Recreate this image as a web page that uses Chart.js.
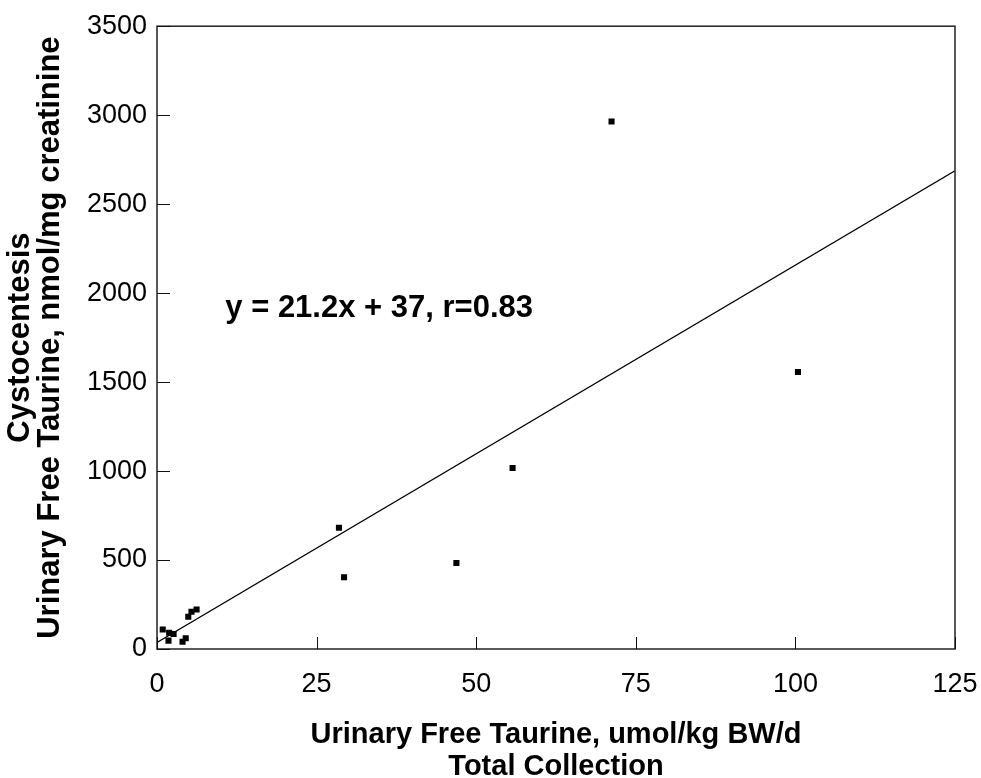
<!DOCTYPE html>
<html>
<head>
<meta charset="utf-8">
<script src="https://cdn.jsdelivr.net/npm/chart.js@4"></script>
<style>
  html, body { margin: 0; padding: 0; background: #fff; }
  #wrap { width: 981px; height: 778px; }
</style>
</head>
<body>
<div id="wrap"><canvas id="c" width="981" height="778"></canvas></div>
<script>
// ---- Data ----
const totalCollection = [0.9, 1.9, 1.8, 2.6, 4.0, 4.5, 4.9, 5.4, 6.2, 28.5, 29.3, 46.9, 55.7, 71.2, 100.4];
const cystocentesis   = [110, 91, 47, 84, 41, 60, 181, 209, 222, 681, 403, 483, 1017, 2964, 1557];
const fitSlope = 21.2;
const fitIntercept = 37;
const fitRange = [0, 125];
const xTicks = [0, 25, 50, 75, 100, 125];
const yTicks = [0, 500, 1000, 1500, 2000, 2500, 3000, 3500];
const equationText = 'y = 21.2x + 37, r=0.83';
const equationPos = { x: 10.7, y: 1915 };

const scatterPoints = totalCollection.map((x, i) => ({ x: x, y: cystocentesis[i] }));
const fitPoints = fitRange.map(x => ({ x: x, y: fitSlope * x + fitIntercept }));

const FONT = "'Liberation Sans', Arial, Helvetica, sans-serif";

const framePlugin = {
  id: 'frame',
  afterDatasetsDraw(chart) {
    const { ctx, chartArea: a, scales } = chart;
    ctx.save();
    ctx.strokeStyle = '#222';
    ctx.lineWidth = 1.5;
    ctx.strokeRect(a.left, a.top, a.right - a.left, a.bottom - a.top);
    ctx.lineWidth = 1;
    ctx.strokeStyle = '#111';
    // inward ticks
    xTicks.forEach(v => {
      const px = Math.round(scales.x.getPixelForValue(v)) + 0.5;
      ctx.beginPath(); ctx.moveTo(px, a.bottom); ctx.lineTo(px, a.bottom - 12); ctx.stroke();
    });
    yTicks.forEach(v => {
      const py = Math.round(scales.y.getPixelForValue(v)) + 0.5;
      ctx.beginPath(); ctx.moveTo(a.left, py); ctx.lineTo(a.left + 13, py); ctx.stroke();
    });
    // equation annotation
    ctx.fillStyle = '#000';
    ctx.font = 'bold 31px ' + FONT;
    ctx.textAlign = 'left';
    ctx.textBaseline = 'middle';
    ctx.fillText(equationText, scales.x.getPixelForValue(equationPos.x), scales.y.getPixelForValue(equationPos.y));
    ctx.restore();
  }
};

new Chart(document.getElementById('c'), {
  type: 'scatter',
  data: {
    datasets: [
      {
        label: 'Data',
        data: scatterPoints,
        pointStyle: 'rect',
        pointRadius: 4.3,
        pointHoverRadius: 4.3,
        backgroundColor: '#000',
        borderColor: '#000',
        borderWidth: 0
      },
      {
        label: 'Fit',
        type: 'line',
        data: fitPoints,
        borderColor: '#000',
        borderWidth: 1.3,
        pointRadius: 0,
        fill: false,
        tension: 0
      }
    ]
  },
  options: {
    responsive: false,
    animation: false,
    events: [],
    layout: { padding: { top: 24, right: 26, bottom: 0, left: 0 } },
    plugins: { legend: { display: false }, tooltip: { enabled: false } },
    scales: {
      x: {
        type: 'linear',
        min: 0, max: 125,
        afterBuildTicks: s => { s.ticks = xTicks.map(v => ({ value: v })); },
        afterFit: s => { s.height = 778 - 649; s.paddingRight = 0; s.paddingLeft = 0; },
        grid: { display: false, drawTicks: false },
        border: { display: false },
        ticks: { color: '#000', font: { family: FONT, size: 27 }, padding: 19, maxRotation: 0,
                 callback: v => String(v) },
        title: {
          display: true,
          text: ['Urinary Free Taurine, umol/kg BW/d', 'Total Collection'],
          color: '#000',
          font: { family: FONT, size: 29, weight: 'bold', lineHeight: 1.1 },
          padding: { top: 0, bottom: -5 }
        }
      },
      y: {
        type: 'linear',
        min: 0, max: 3500,
        afterBuildTicks: s => { s.ticks = yTicks.map(v => ({ value: v })); },
        afterFit: s => { s.width = 157; },
        grid: { display: false, drawTicks: false },
        border: { display: false },
        ticks: { color: '#000', font: { family: FONT, size: 27 }, padding: 10,
                 callback: v => String(v) },
        title: {
          display: true,
          text: ['Cystocentesis', 'Urinary Free Taurine, nmol/mg creatinine'],
          color: '#000',
          font: { family: FONT, size: 31, weight: 'bold', lineHeight: 0.95 },
          padding: { top: 6, bottom: 0 }
        }
      }
    }
  },
  plugins: [framePlugin]
});
</script>
</body>
</html>
